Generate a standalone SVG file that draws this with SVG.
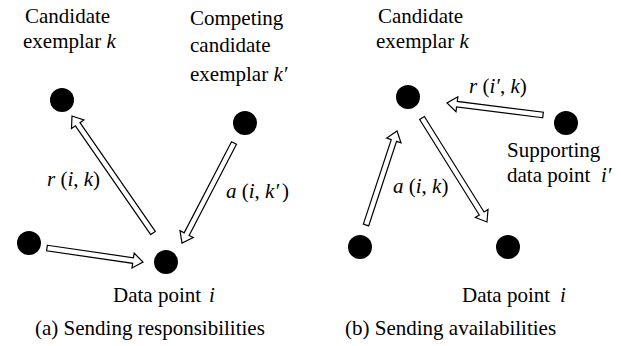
<svg xmlns="http://www.w3.org/2000/svg" width="621" height="346" viewBox="0 0 621 346" font-family="Liberation Serif, DejaVu Serif, serif" font-size="21">
  <style>
    .m { font-style: italic; }
    .dot { fill: #000; }
    .arr { fill: #fff; stroke: #000; stroke-width: 1.2; stroke-linejoin: miter; }
  </style>
  <rect width="621" height="346" fill="#fff"/>

  <!-- Panel (a) -->
  <g id="a-exemplar-k">
    <circle class="dot" cx="62" cy="100" r="12"/>
    <text x="25" y="23">Candidate</text>
    <text x="23" y="48">exemplar <tspan class="m">k</tspan></text>
  </g>
  <g id="a-competing-k2">
    <circle class="dot" cx="245" cy="123" r="12"/>
    <text x="190" y="25">Competing</text>
    <text x="190" y="52">candidate</text>
    <text x="190" y="81">exemplar <tspan class="m">k′</tspan></text>
  </g>
  <g id="a-other-point">
    <circle class="dot" cx="29" cy="243" r="12"/>
  </g>
  <g id="a-data-point-i">
    <circle class="dot" cx="166" cy="262" r="12"/>
    <text x="113" y="302">Data point <tspan class="m" x="209">i</tspan></text>
  </g>
  <text id="caption-a" x="35" y="335">(a) Sending responsibilities</text>

  <!-- Panel (b) -->
  <g id="b-exemplar-k">
    <circle class="dot" cx="408" cy="97" r="12"/>
    <text x="378" y="23">Candidate</text>
    <text x="376" y="48">exemplar <tspan class="m">k</tspan></text>
  </g>
  <g id="b-supporting-i2">
    <circle class="dot" cx="566" cy="123" r="12"/>
    <text x="507" y="157">Supporting</text>
    <text x="507" y="182">data point <tspan class="m" x="601">i′</tspan></text>
  </g>
  <g id="b-other-point">
    <circle class="dot" cx="360" cy="247" r="12"/>
  </g>
  <g id="b-data-point-i">
    <circle class="dot" cx="508" cy="247" r="12"/>
    <text x="462" y="302">Data point <tspan class="m" x="560">i</tspan></text>
  </g>
  <text id="caption-b" x="345" y="335">(b) Sending availabilities</text>

  <!-- Connectors -->
  <g id="connectors">
    <path class="arr" transform="translate(153,233) rotate(235.3)" d="M0,-2.8 H132.3 V-7.5 L142.3,0 L132.3,7.5 V2.8 H0 Z"/>
    <path class="arr" transform="translate(234,143) rotate(117.47)" d="M0,-2.8 H102.7 V-7.5 L112.7,0 L102.7,7.5 V2.8 H0 Z"/>
    <path class="arr" transform="translate(47,248) rotate(8.3)" d="M0,-2.8 H87 V-7.5 L97,0 L87,7.5 V2.8 H0 Z"/>
    <path class="arr" transform="translate(543,115) rotate(187.13)" d="M0,-2.8 H86.75 V-7.5 L96.75,0 L86.75,7.5 V2.8 H0 Z"/>
    <path class="arr" transform="translate(366,225) rotate(-71.74)" d="M0,-2.8 H89 V-7.5 L99,0 L89,7.5 V2.8 H0 Z"/>
    <path class="arr" transform="translate(422,118) rotate(58)" d="M0,-2.8 H112.6 V-7.5 L122.6,0 L112.6,7.5 V2.8 H0 Z"/>
    <text x="47" y="186"><tspan class="m">r</tspan> (<tspan class="m">i</tspan>, <tspan class="m">k</tspan>)</text>
    <text x="226" y="198"><tspan class="m">a</tspan> (<tspan class="m">i</tspan>, <tspan class="m">k′</tspan><tspan dx="3">)</tspan></text>
    <text x="469" y="93"><tspan class="m">r</tspan> (<tspan class="m">i′</tspan>, <tspan class="m">k</tspan>)</text>
    <text x="393" y="193"><tspan class="m">a</tspan> (<tspan class="m">i</tspan>, <tspan class="m">k</tspan>)</text>
  </g>
</svg>
